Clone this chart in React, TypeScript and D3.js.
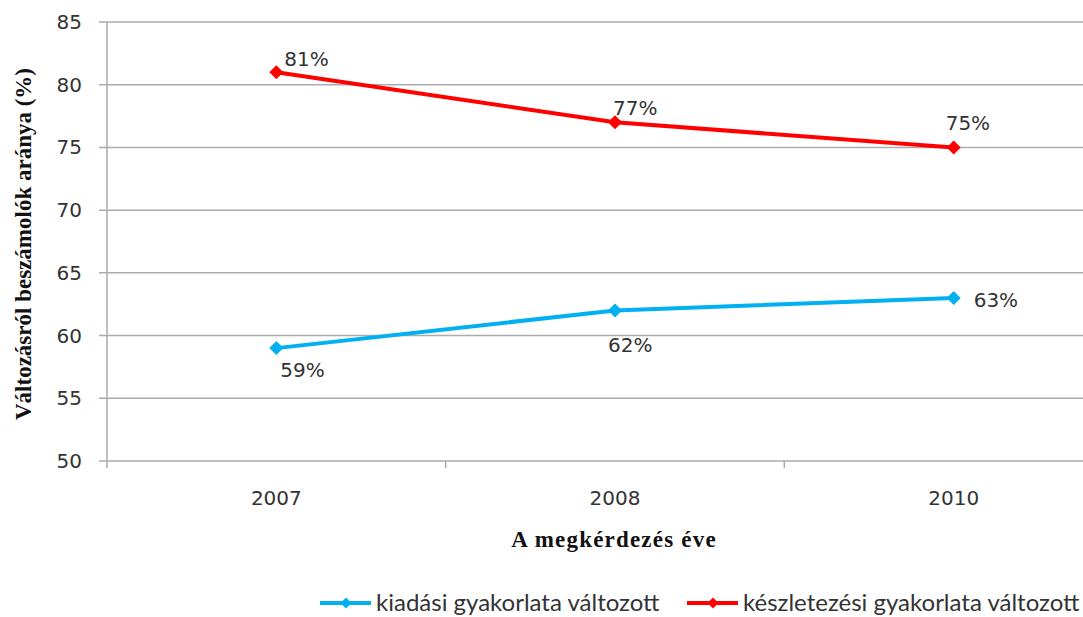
import React, { useEffect, useRef } from "react";
import * as d3 from "d3";

// chart data
const years = ["2007", "2008", "2010"];
const kiadasi = [59, 62, 63];
const keszletezesi = [81, 77, 75];
const yTicks = [50, 55, 60, 65, 70, 75, 80, 85];

const seriesNames = ["kiadási gyakorlata változott", "készletezési gyakorlata változott"];

// label offsets (Excel-style placement)
const blueLabelOffsets = [
  { dx: 4, dy: 29 },
  { dx: -7, dy: 42 },
  { dx: 20, dy: 9 },
];
const redLabelOffsets = [
  { dx: 8, dy: -6 },
  { dx: -2, dy: -7 },
  { dx: -8, dy: -17 },
];

const W = 1083;
const H = 617;

const App = () => {
  const svgRef = useRef<SVGSVGElement | null>(null);

  useEffect(() => {
    document.body.style.margin = "0";
    if (!svgRef.current) return;
    const svg = d3.select(svgRef.current);
    svg.selectAll("*").remove();

    const left = 107;
    const right = 1123;
    const top = 22;
    const bottom = 461;

    const x = d3.scaleBand<string>().domain(years).range([left, right]);
    const cx = (d: string) => (x(d) ?? 0) + x.bandwidth() / 2;
    const y = d3.scaleLinear().domain([50, 85]).range([bottom, top]);

    const gridColor = "#ababab";
    const tickFont = "DejaVu Sans, Verdana, sans-serif";

    // horizontal gridlines + y ticks
    const yAxis = svg.append("g");
    yTicks.forEach((t) => {
      yAxis.append("line")
        .attr("x1", left - 8).attr("x2", W)
        .attr("y1", y(t)).attr("y2", y(t))
        .attr("stroke", gridColor).attr("stroke-width", 1.5);
      yAxis.append("text")
        .attr("x", 82).attr("y", y(t) + 7)
        .attr("text-anchor", "end")
        .style("font-family", tickFont)
        .style("font-size", "20px")
        .attr("fill", "#333")
        .text(t);
    });

    // y axis line
    svg.append("line")
      .attr("x1", left).attr("x2", left)
      .attr("y1", top).attr("y2", bottom + 7)
      .attr("stroke", gridColor).attr("stroke-width", 1.5);

    // x category separators
    years.forEach((yr, i) => {
      if (i === 0) return;
      const xx = x(yr) ?? 0;
      svg.append("line")
        .attr("x1", xx).attr("x2", xx)
        .attr("y1", bottom).attr("y2", bottom + 7)
        .attr("stroke", gridColor).attr("stroke-width", 1.5);
    });

    // x tick labels
    years.forEach((yr) => {
      svg.append("text")
        .attr("x", cx(yr)).attr("y", bottom + 44)
        .attr("text-anchor", "middle")
        .style("font-family", tickFont)
        .style("font-size", "20px")
        .attr("fill", "#333")
        .text(yr);
    });

    // square rotated 45deg, like Excel's diamond marker
    const diamond = "M0,-7L7,0L0,7L-7,0Z";

    const drawSeries = (values: number[], color: string, offsets: { dx: number; dy: number }[]) => {
      const line = d3.line<number>()
        .x((_, i) => cx(years[i]))
        .y((d) => y(d));
      svg.append("path")
        .datum(values)
        .attr("fill", "none")
        .attr("stroke", color)
        .attr("stroke-width", 4)
        .attr("stroke-linejoin", "round")
        .attr("d", line);
      values.forEach((v, i) => {
        svg.append("path")
          .attr("d", diamond)
          .attr("transform", `translate(${cx(years[i])},${y(v)})`)
          .attr("fill", color);
        svg.append("text")
          .attr("x", cx(years[i]) + offsets[i].dx)
          .attr("y", y(v) + offsets[i].dy)
          .style("font-family", tickFont)
          .style("font-size", "20px")
          .attr("fill", "#333")
          .text(`${v}%`);
      });
    };

    drawSeries(kiadasi, "#00b0f0", blueLabelOffsets);
    drawSeries(keszletezesi, "#ff0000", redLabelOffsets);

    // axis titles
    svg.append("text")
      .attr("transform", `translate(31, 244) rotate(-90)`)
      .attr("text-anchor", "middle")
      .style("font-family", "Liberation Serif, Times New Roman, serif")
      .style("font-weight", "bold")
      .style("font-size", "23px")
      .attr("fill", "#111")
      .text("Változásról beszámolók aránya  (%)");

    svg.append("text")
      .attr("x", 614).attr("y", 547)
      .attr("text-anchor", "middle")
      .style("font-family", "Liberation Serif, Times New Roman, serif")
      .style("font-weight", "bold")
      .style("font-size", "23px")
      .style("letter-spacing", "1.2px")
      .attr("fill", "#111")
      .text("A megkérdezés éve");

    // legend
    const legendItems = [
      { name: seriesNames[0], color: "#00b0f0", x0: 320 },
      { name: seriesNames[1], color: "#ff0000", x0: 687 },
    ];
    legendItems.forEach((it) => {
      const ly = 603;
      svg.append("line")
        .attr("x1", it.x0).attr("x2", it.x0 + 51)
        .attr("y1", ly).attr("y2", ly)
        .attr("stroke", it.color).attr("stroke-width", 4);
      svg.append("path")
        .attr("d", diamond)
        .attr("transform", `translate(${it.x0 + 26},${ly}) scale(0.8)`)
        .attr("fill", it.color);
      svg.append("text")
        .attr("x", it.x0 + 56).attr("y", ly + 8)
        .style("font-family", "Lato, Open Sans, sans-serif")
        .style("font-size", "24px")
        .attr("fill", "#333")
        .text(it.name);
    });
  }, []);

  return (
    <svg ref={svgRef} width={W} height={H} style={{ display: "block", background: "#fff" }} />
  );
};

export default App;
